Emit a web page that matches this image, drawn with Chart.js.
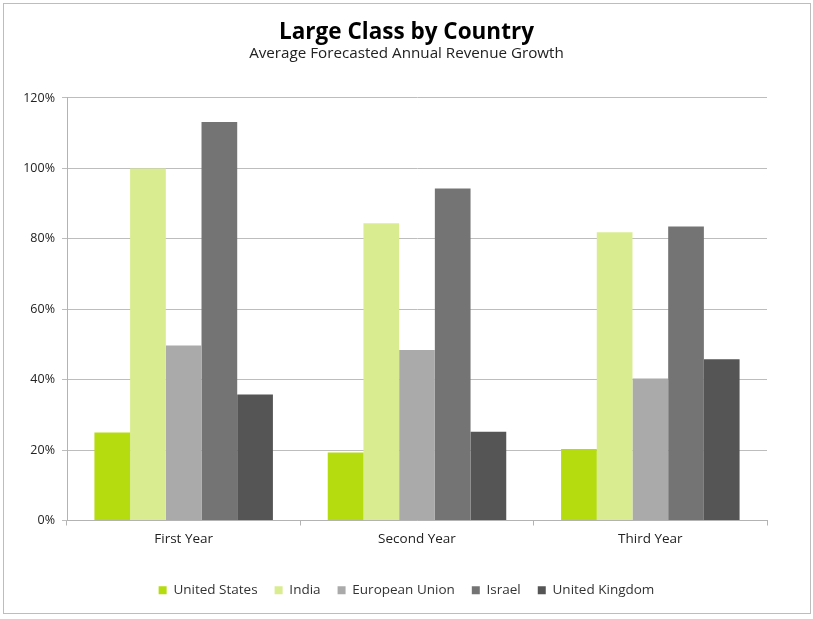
<!DOCTYPE html>
<html>
<head>
<meta charset="utf-8">
<script src="https://cdn.jsdelivr.net/npm/chart.js@4.4.1/dist/chart.umd.min.js"></script>
<style>
html,body{margin:0;padding:0;background:#fff;}
#frame{position:absolute;left:3px;top:3px;width:806px;height:609px;border:1px solid #bdbdbd;}
#wrap{position:absolute;left:0;top:0;width:813px;height:619px;}
</style>
</head>
<body>
<div id="frame"></div>
<div id="wrap"><canvas id="c" width="813" height="619"></canvas></div>
<script>
const categories = ["First Year", "Second Year", "Third Year"];
const seriesNames = ["United States", "India", "European Union", "Israel", "United Kingdom"];
const unitedStates = [0.25, 0.193, 0.203];
const india = [1.00, 0.844, 0.819];
const europeanUnion = [0.497, 0.484, 0.403];
const israel = [1.132, 0.943, 0.835];
const unitedKingdom = [0.358, 0.252, 0.458];
const yTicks = [0, 0.2, 0.4, 0.6, 0.8, 1.0, 1.2];

const colors = ["#b5dc0f", "#d9ec8f", "#aaaaaa", "#747474", "#555555"];
const values = [unitedStates, india, europeanUnion, israel, unitedKingdom];

const FONT = "'Open Sans', sans-serif";

new Chart(document.getElementById('c'), {
  type: 'bar',
  data: {
    labels: categories,
    datasets: seriesNames.map((n, i) => ({
      label: n,
      data: values[i],
      backgroundColor: colors[i],
      borderWidth: 0,
      barPercentage: 1.0,
      categoryPercentage: 0.765
    }))
  },
  options: {
    responsive: false,
    animation: false,
    devicePixelRatio: 1,
    layout: { padding: { left: 23, right: 23, top: 0, bottom: 12 } },
    plugins: {
      title: {
        display: true,
        text: "Large Class by Country",
        color: "#000",
        font: { family: FONT, size: 22.5, weight: 'bold', lineHeight: 1.1 },
        padding: { top: 20, bottom: 0 }
      },
      subtitle: {
        display: true,
        text: "Average Forecasted Annual Revenue Growth",
        color: "#222",
        font: { family: FONT, size: 15.2, lineHeight: 1.2 },
        padding: { top: 0, bottom: 35 }
      },
      legend: {
        position: 'bottom',
        labels: {
          boxWidth: 8,
          boxHeight: 8,
          color: "#333",
          font: { family: FONT, size: 13.5 },
          padding: 17
        }
      },
      tooltip: { enabled: false }
    },
    scales: {
      x: {
        offset: true,
        grid: {
          display: true,
          offset: true,
          drawOnChartArea: false,
          drawTicks: true,
          tickLength: 5,
          color: "#b3b3b3"
        },
        border: { display: true, color: "#b3b3b3", width: 1 },
        ticks: { color: "#222", font: { family: FONT, size: 13.5 }, padding: 6 },
        afterFit: (s) => { s.height = 46; }
      },
      y: {
        min: 0,
        max: 1.2,
        afterBuildTicks: (s) => { s.ticks = yTicks.map(v => ({ value: v })); },
        grid: {
          color: "#bdbdbd",
          tickLength: 5,
          drawTicks: true
        },
        border: { display: true, color: "#b3b3b3", width: 1 },
        ticks: {
          color: "#222",
          font: { family: FONT, size: 12.5 },
          padding: 7,
          callback: (v) => Math.round(v * 100) + "%"
        },
        afterFit: (s) => { s.width = 44; }
      },
      yRight: {
        position: 'right',
        display: true,
        grid: { display: false },
        border: { display: false },
        ticks: { display: false },
        afterFit: (s) => { s.width = 23; }
      }
    }
  }
});
</script>
</body>
</html>
